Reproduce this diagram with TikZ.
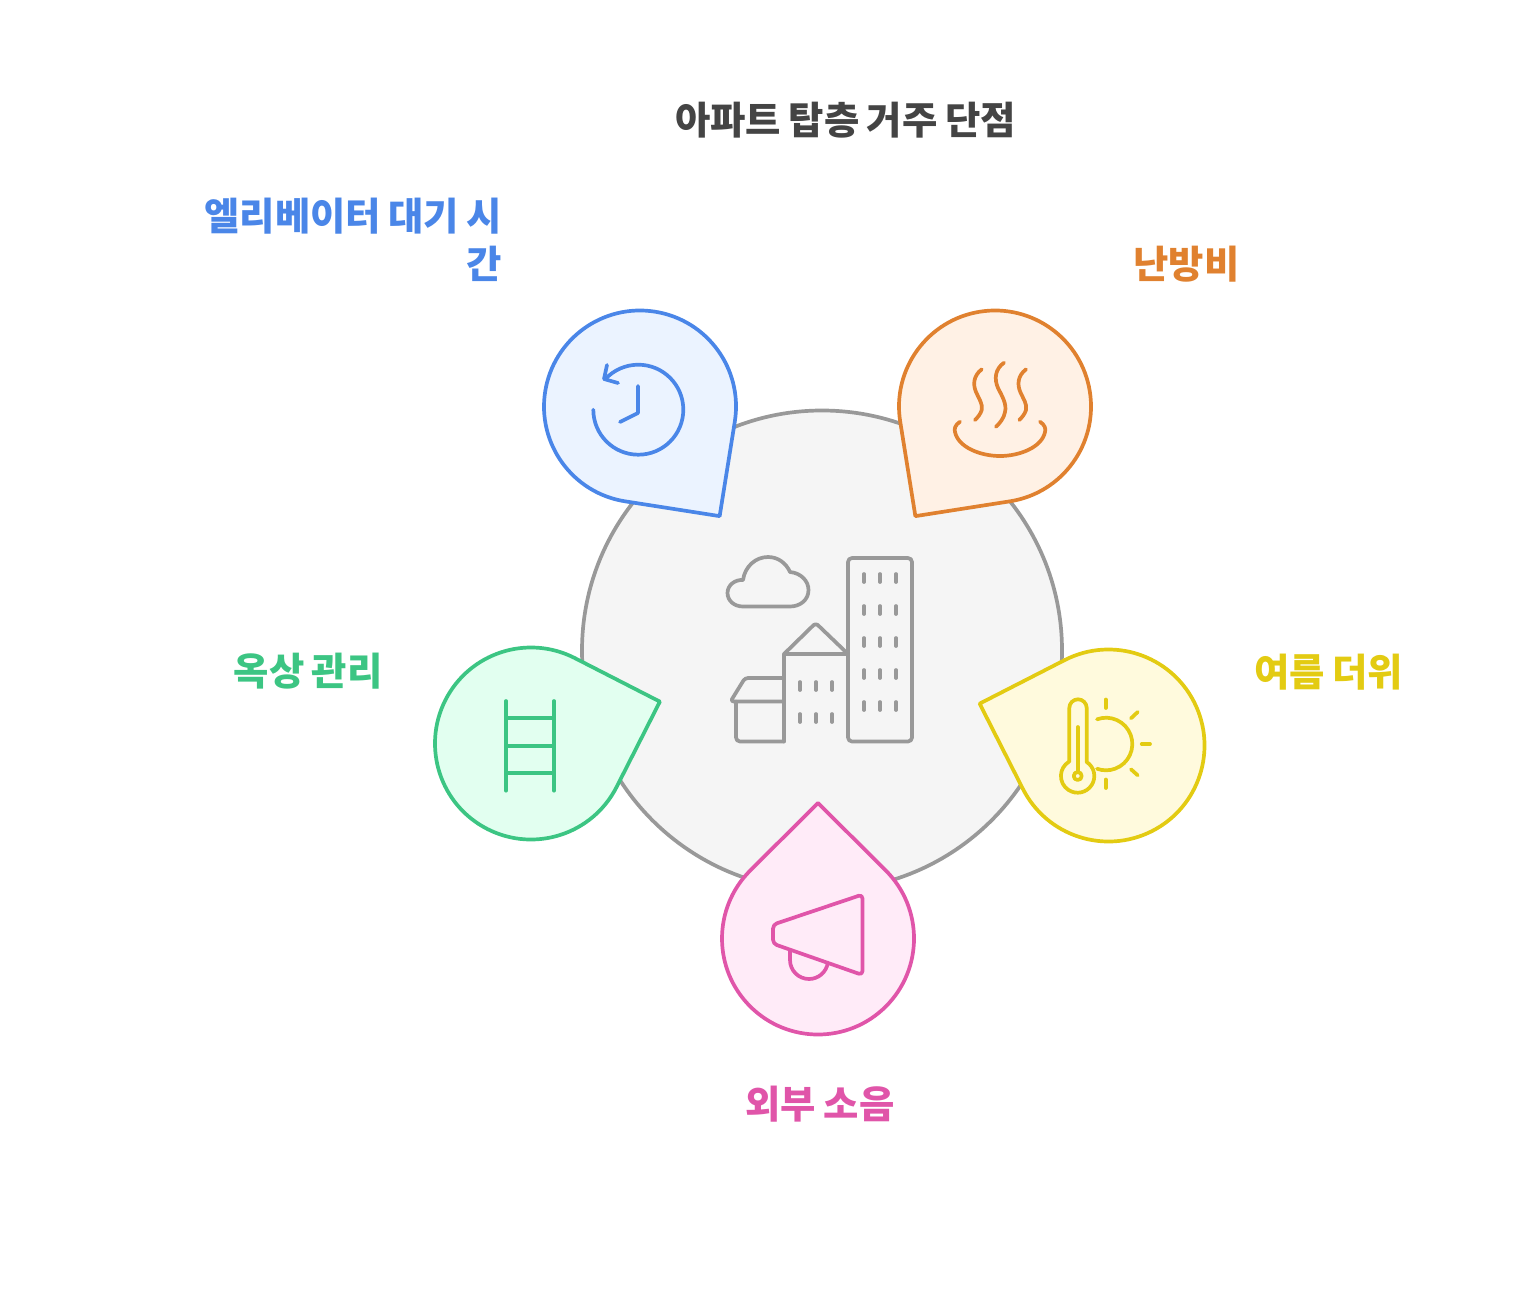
\documentclass[tikz,border=0pt]{standalone}
\usepackage{fontspec}
\setmainfont{Noto Sans CJK KR}[WordSpace=0.85]
\usetikzlibrary{calc}
\definecolor{gris}{HTML}{999999}
\definecolor{grisclaro}{HTML}{F5F5F5}
\definecolor{titulo}{HTML}{444444}
\definecolor{azul}{HTML}{4A86E8}
\definecolor{azulclaro}{HTML}{EBF3FF}
\definecolor{naranja}{HTML}{E0812F}
\definecolor{naranjaclaro}{HTML}{FFF1E5}
\definecolor{amarillo}{HTML}{E3CB12}
\definecolor{amarilloclaro}{HTML}{FFFADD}
\definecolor{rosa}{HTML}{E055A9}
\definecolor{rosaclaro}{HTML}{FFEBF8}
\definecolor{verde}{HTML}{3CC583}
\definecolor{verdeclaro}{HTML}{E2FFF0}
\tikzset{
  trazo/.style={line width=1.85pt,line cap=round,line join=round},
  etiqueta/.style={inner sep=0pt,font=\fontsize{19.2}{24}\selectfont\bfseries},
}
% gota: estilo, centro, angulo de la punta
\newcommand{\gota}[3]{\draw[trazo,#1] ($(#2)+(#3:135.5)$) -- ($(#2)+(#3+45:96)$) arc (#3+45:#3+315:96) -- cycle;}
\begin{document}
\begin{tikzpicture}[x=0.5pt,y=0.5pt,yscale=-1]
  \useasboundingbox (0,0) rectangle (1540,1300);

  % Circulo central
  \draw[trazo,draw=gris,fill=grisclaro] (822,650.5) circle (240);

  % Edificios y nube
  \draw[trazo,gris,rounded corners=2pt] (848,558) rectangle (912,741.5);
  \draw[trazo,gris] (784,741.5) -- (784,654) -- (848,654);
  \draw[trazo,gris,rounded corners=1.5pt] (784,654) -- (815.7,623) -- (848,654);
  \draw[trazo,gris,rounded corners=2pt] (784,741.5) -- (736,741.5) -- (736,701.5);
  \draw[trazo,gris,rounded corners=1.5pt] (784,701.5) -- (730.5,701.5) -- (745,678) -- (784,678);
  \foreach \y in {578,610,642,674,706}
    \foreach \x in {864,880,896}
      \draw[trazo,gris] (\x,\y-4) -- (\x,\y+4);
  \foreach \y in {686,718}
    \foreach \x in {800,816,832}
      \draw[trazo,gris] (\x,\y-4) -- (\x,\y+4);
  \draw[trazo,gris] (743,606.5) .. controls (734,606.5) and (727.5,600.5) .. (727.5,593)
    .. controls (727.5,585) and (735,579.5) .. (743,580)
    .. controls (745,566) and (756,557) .. (768,557)
    .. controls (778,557) and (786,563) .. (790,572)
    .. controls (801,573) and (808.5,581) .. (808.5,590)
    .. controls (808.5,600) and (800,606.5) .. (790,606.5) -- cycle;

  % Gotas
  \gota{draw=azul,fill=azulclaro}{640,406.5}{54}
  \gota{draw=naranja,fill=naranjaclaro}{995,406.5}{126}
  \gota{draw=amarillo,fill=amarilloclaro}{1108.5,745.5}{198}
  \gota{draw=rosa,fill=rosaclaro}{818,938.5}{270}
  \gota{draw=verde,fill=verdeclaro}{531,743.5}{342}

  % Reloj
  \draw[trazo,azul] (593.3,409.7) arc (180:-137:45);
  \draw[trazo,azul] (607,365) -- (604,379) -- (618,383);
  \draw[trazo,azul] (638,386) -- (638,413) -- (620,422);

  % Vapor
  \draw[trazo,naranja] (960,421.7) .. controls (955,425) and (954,429) .. (955,432)
    .. controls (958,447) and (980,456) .. (1000,456)
    .. controls (1020,456) and (1042,447) .. (1045,432)
    .. controls (1046,429) and (1045,425) .. (1040,421.7);
  \foreach \x in {0,44.3}
    \draw[trazo,naranja] (981.7+\x,369.3) .. controls (973+\x,376) and (973+\x,385) .. (976+\x,392)
      .. controls (979+\x,399) and (983+\x,404) .. (981.7+\x,410)
      .. controls (980.5+\x,414) and (978+\x,417) .. (975+\x,420);
  \draw[trazo,naranja] (1004,362.7) .. controls (995,369) and (994,379) .. (998,388)
    .. controls (1002,396) and (1007,404) .. (1005,412)
    .. controls (1004,418) and (1000,423) .. (996,426.7);

  % Termometro y sol
  \draw[trazo,amarillo] (1069.3,762) -- (1069.3,708) arc (180:360:8.7) -- (1086.7,762) arc (303:597:16.7) -- cycle;
  \draw[trazo,amarillo] (1077.7,727) -- (1077.7,772);
  \draw[trazo,amarillo] (1077.7,776) circle (4);
  \draw[trazo,amarillo] (1097,719.3) arc (250:470:26.3);
  \draw[trazo,amarillo] (1105.7,699.5) -- (1105.7,708);
  \draw[trazo,amarillo] (1105.7,779.5) -- (1105.7,788);
  \draw[trazo,amarillo] (1141.7,744) -- (1150,744);
  \draw[trazo,amarillo] (1131,718.3) -- (1137.7,712);
  \draw[trazo,amarillo] (1131,769.3) -- (1137.7,775.3);

  % Megafono
  \draw[trazo,rosa,rounded corners=2pt] (862.5,894.5) -- (862.5,975) -- (773,943.7) -- (773,924.6) -- cycle;
  \draw[trazo,rosa] (790,950) -- (790,960) arc (180:8:19);

  % Escalera
  \draw[trazo,verde] (506,701) -- (506,790.7);
  \draw[trazo,verde] (554,701) -- (554,790.7);
  \foreach \y in {718.3,746,773.3}
    \draw[trazo,verde] (506,\y) -- (554,\y);

  % Textos
  \node[etiqueta,text=titulo] (titulo) at (845.5,120) {아파트 탑층 거주 단점};
  \node[etiqueta,text=azul,anchor=east,align=right] (espera) at (502.5,240) {엘리베이터 대기 시\\간};
  \node[etiqueta,text=naranja,anchor=west] (calefaccion) at (1133,264) {난방비};
  \node[etiqueta,text=amarillo,anchor=west] (calor) at (1254,672) {여름 더위};
  \node[etiqueta,text=rosa] (ruido) at (820,1104) {외부 소음};
  \node[etiqueta,text=verde,anchor=east] (azotea) at (383,671) {옥상 관리};
\end{tikzpicture}
\end{document}
